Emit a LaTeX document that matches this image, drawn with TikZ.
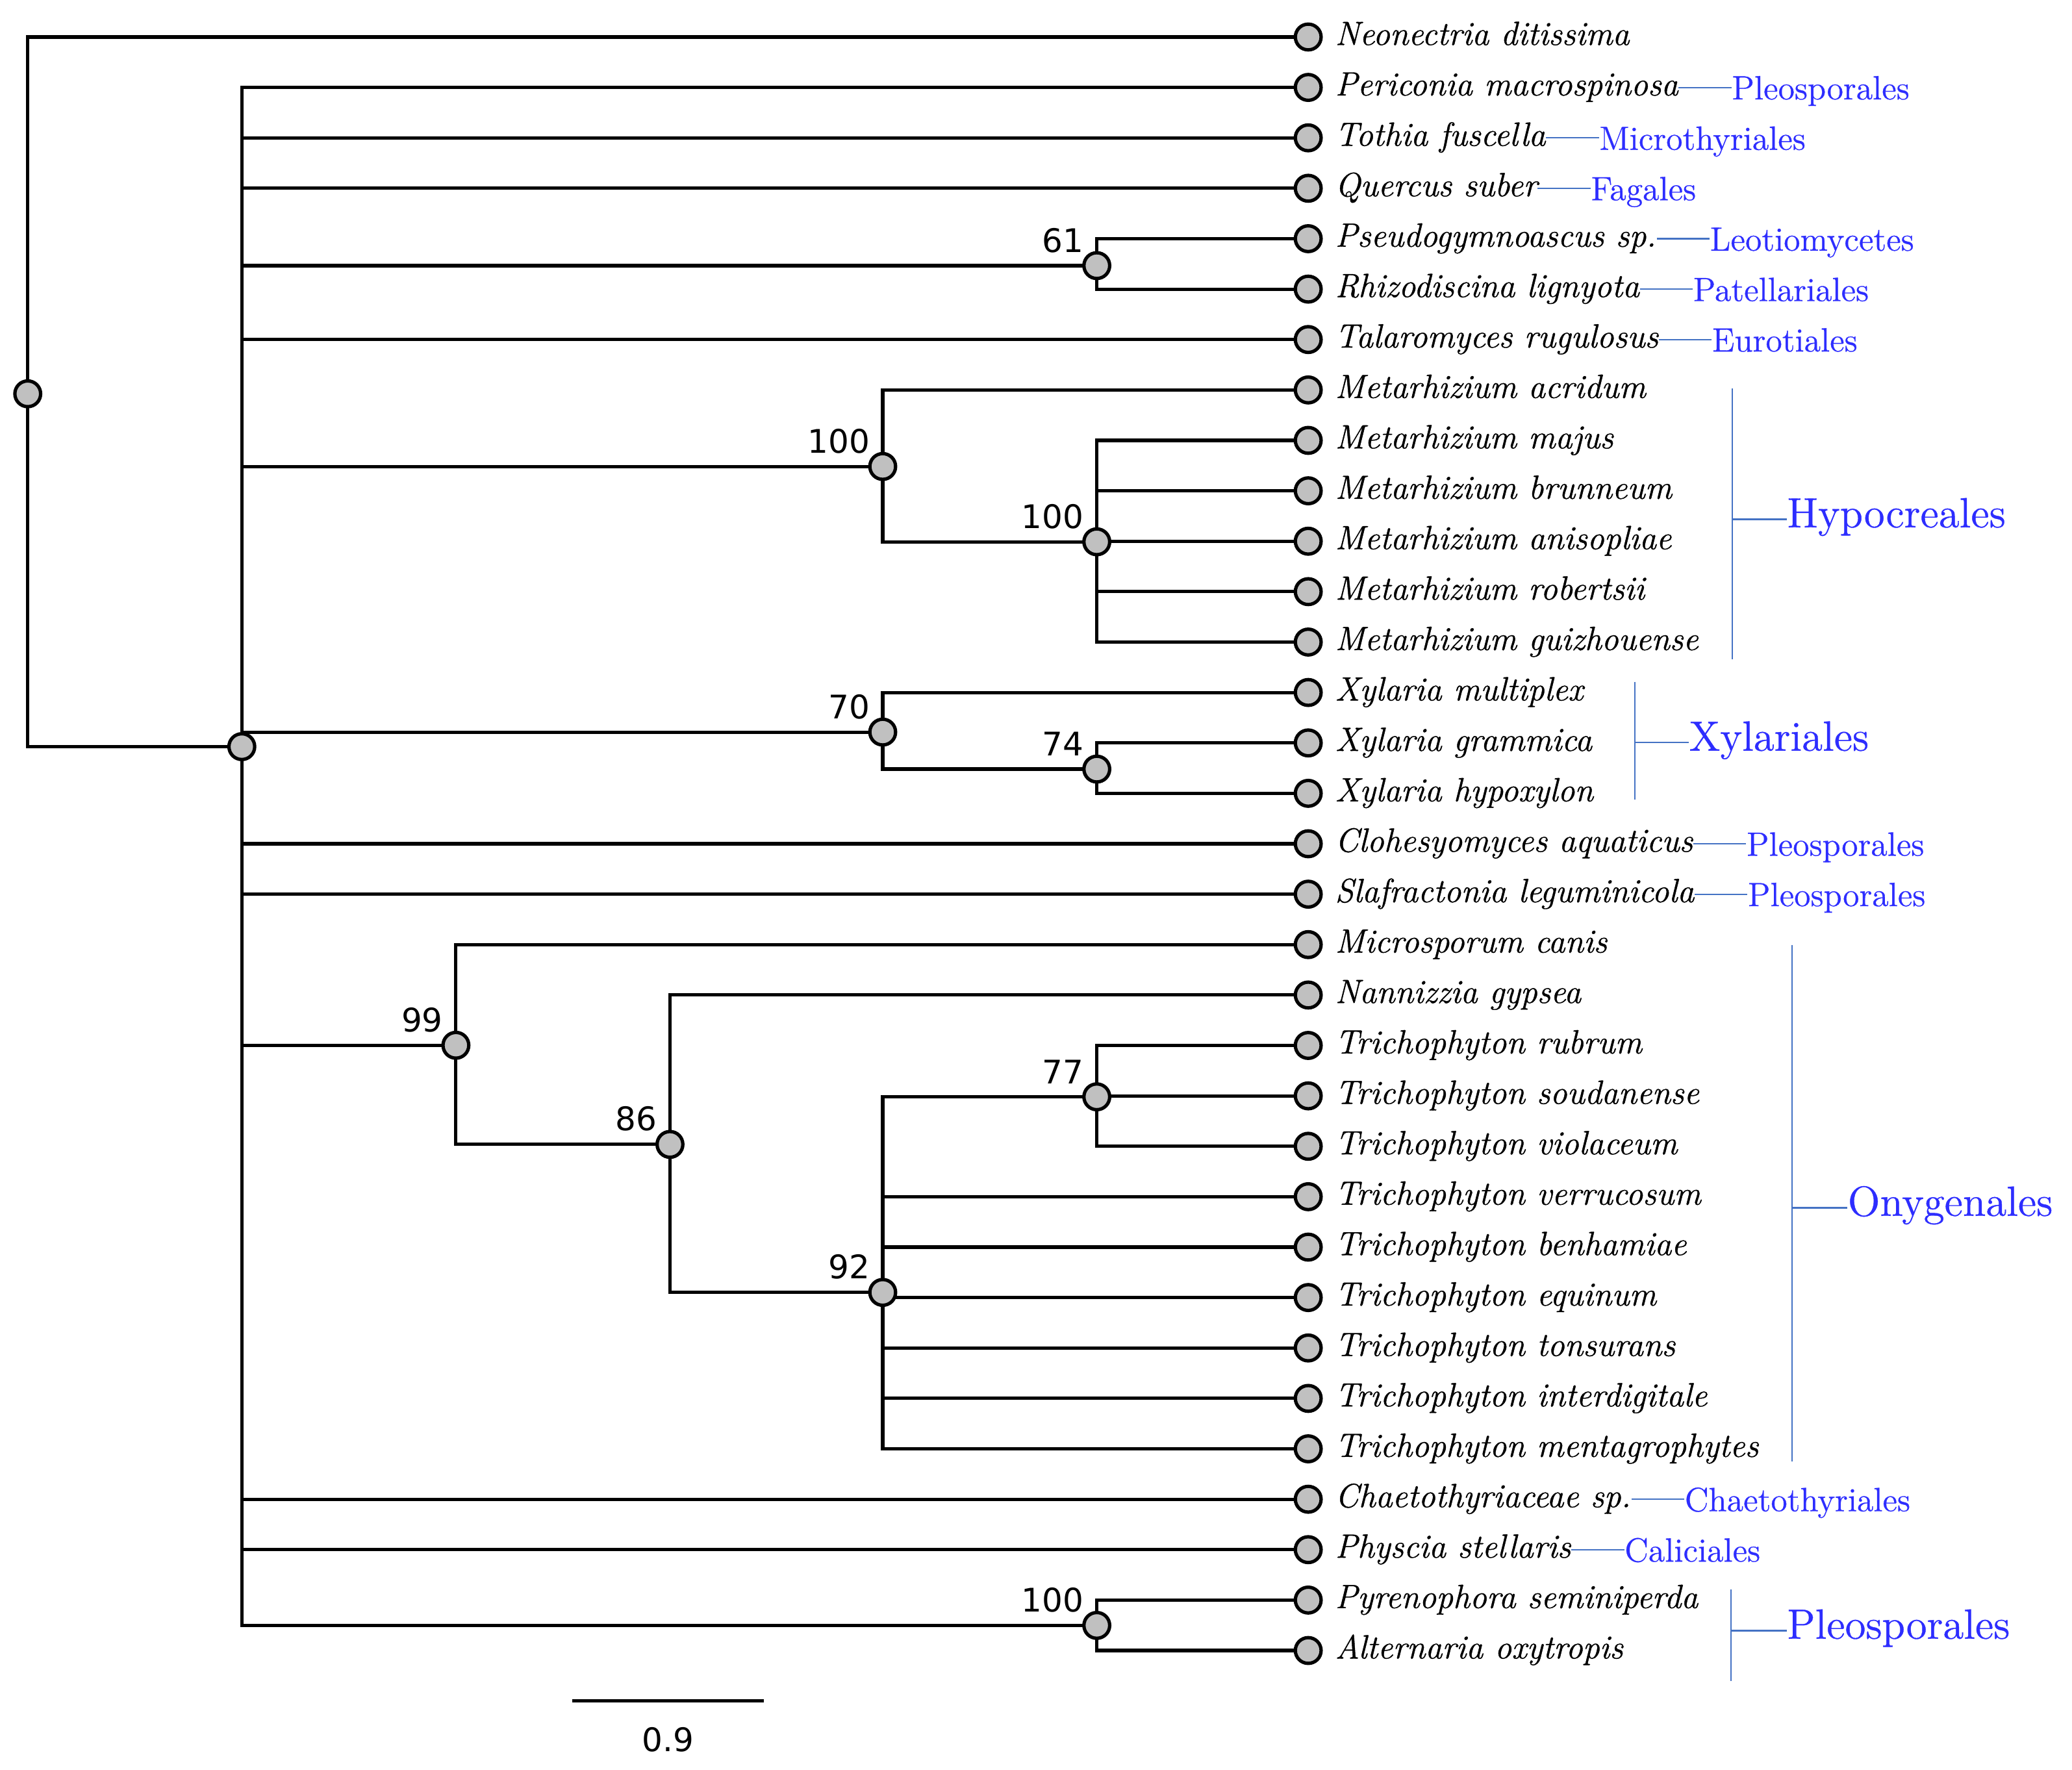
\documentclass[tikz,border=0pt]{standalone}
\usepackage{fontspec}
\newfontfamily\bsfont{DejaVu Sans}
\newfontfamily\leaffont{lmroman12-italic.otf}[FakeBold=0.8]
\newfontfamily\ordfont{lmroman12-regular.otf}[FakeBold=0.6]
\usepackage{tikz}
\usetikzlibrary{positioning,backgrounds}
\definecolor{ordertext}{RGB}{45,45,255}
\definecolor{orderline}{RGB}{68,114,196}
\definecolor{nodegray}{RGB}{192,192,192}
\tikzset{
    branch/.style={line width=1.45pt},
    dot/.style={circle, draw, line width=1.45pt, fill=nodegray, minimum size=0.39cm, inner sep=0pt},
    taxon/.style={anchor=west, inner sep=0pt, text height=1.6ex, text depth=0pt, font=\leaffont\fontsize{14.5}{16}\selectfont},
    bs/.style={inner sep=1pt, font=\bsfont\fontsize{14}{16}\selectfont},
    ord/.style={anchor=west, inner sep=0pt, text height=1.6ex, text depth=0pt, text=ordertext, font=\ordfont\fontsize{14.5}{16}\selectfont},
    bigord/.style={ord, font=\ordfont\fontsize{18.2}{21}\selectfont},
    ordline/.style={orderline, line width=0.6pt}
}

\begin{document}
\begin{tikzpicture}[x=0.02cm, y=-0.02cm]
    \useasboundingbox (0,0) rectangle (1568,1339);
    %Leaves
    \foreach \name [count=\i] in {Neonectria ditissima, Periconia macrospinosa, Tothia fuscella, Quercus suber, Pseudogymnoascus sp., Rhizodiscina lignyota, Talaromyces rugulosus, Metarhizium acridum, Metarhizium majus, Metarhizium brunneum, Metarhizium anisopliae, Metarhizium robertsii, Metarhizium guizhouense, Xylaria multiplex, Xylaria grammica, Xylaria hypoxylon, Clohesyomyces aquaticus, Slafractonia leguminicola, Microsporum canis, Nannizzia gypsea, Trichophyton rubrum, Trichophyton soudanense, Trichophyton violaceum, Trichophyton verrucosum, Trichophyton benhamiae, Trichophyton equinum, Trichophyton tonsurans, Trichophyton interdigitale, Trichophyton mentagrophytes, Chaetothyriaceae sp., Physcia stellaris, Pyrenophora seminiperda, Alternaria oxytropis} {
        \node[dot] (l\i) at (990,{28+38.156*(\i-1)}) {};
        \node[taxon] (t\i) at ([xshift=0.18cm]l\i.east) {\name};
    }
    %Inner nodes
    \node[dot] (root) at (21,298) {};
    \node[dot] (main) at (183,565) {};
    \node[dot, label={[bs]north west:61}] (n61) at (830,201) {};
    \node[dot, label={[bs]north west:100}] (nhyp) at (668,353) {};
    \node[dot, label={[bs]north west:100}] (nmet) at (830,410) {};
    \node[dot, label={[bs]north west:70}] (nxyl) at (668,554) {};
    \node[dot, label={[bs]north west:74}] (nxg) at (830,582) {};
    \node[dot, label={[bs]north west:99}] (nony) at (345,791) {};
    \node[dot, label={[bs]north west:86}] (nder) at (507,866) {};
    \node[dot, label={[bs]north west:92}] (ntri) at (668,978) {};
    \node[dot, label={[bs]north west:77}] (nrub) at (830,830) {};
    \node[dot, label={[bs]north west:100}] (nple) at (830,1230) {};
    %Branches
    \begin{scope}[on background layer]
        \draw[branch] (root.center) |- (l1.center);
        \draw[branch] (root.center) |- (main.center);
        \foreach \c in {l2,l3,l4,n61,l7,nhyp,nxyl,l17,l18,nony,l30,l31,nple}
            \draw[branch] (main.center) |- (\c.center);
        \foreach \c in {l5,l6} \draw[branch] (n61.center) |- (\c.center);
        \foreach \c in {l8,nmet} \draw[branch] (nhyp.center) |- (\c.center);
        \foreach \c in {l9,l10,l11,l12,l13} \draw[branch] (nmet.center) |- (\c.center);
        \foreach \c in {l14,nxg} \draw[branch] (nxyl.center) |- (\c.center);
        \foreach \c in {l15,l16} \draw[branch] (nxg.center) |- (\c.center);
        \foreach \c in {l19,nder} \draw[branch] (nony.center) |- (\c.center);
        \foreach \c in {l20,ntri} \draw[branch] (nder.center) |- (\c.center);
        \foreach \c in {nrub,l24,l25,l26,l27,l28,l29} \draw[branch] (ntri.center) |- (\c.center);
        \foreach \c in {l21,l22,l23} \draw[branch] (nrub.center) |- (\c.center);
        \foreach \c in {l32,l33} \draw[branch] (nple.center) |- (\c.center);
    \end{scope}
    %Orders of single taxa
    \foreach \i/\ord in {2/Pleosporales, 3/Microthyriales, 4/Fagales, 5/Leotiomycetes, 6/Patellariales, 7/Eurotiales, 17/Pleosporales, 18/Pleosporales, 30/Chaetothyriales, 31/Caliciales} {
        \node[ord] (o\i) at ([xshift=0.8cm, yshift=-0.06cm]t\i.east) {\ord};
        \draw[ordline] (t\i.east) -- (o\i.west |- t\i.east);
    }
    %Hypocreales
    \coordinate (hyptop) at (1311,294);
    \coordinate (hypbot) at (1311,499);
    \node[bigord] (hyp) at (1352,393) {Hypocreales};
    \draw[ordline] (hyptop) -- (hypbot);
    \draw[ordline] (hyptop |- hyp.west) -- (hyp.west);
    %Xylariales
    \coordinate (xyltop) at (1237,516);
    \coordinate (xylbot) at (1237,605);
    \node[bigord] (xyl) at (1278,562) {Xylariales};
    \draw[ordline] (xyltop) -- (xylbot);
    \draw[ordline] (xyltop |- xyl.west) -- (xyl.west);
    %Onygenales
    \coordinate (onytop) at (1356,715);
    \coordinate (onybot) at (1356,1106);
    \node[bigord] (ony) at (1398,914) {Onygenales};
    \draw[ordline] (onytop) -- (onybot);
    \draw[ordline] (onytop |- ony.west) -- (ony.west);
    %Pleosporales
    \coordinate (pletop) at (1310,1203);
    \coordinate (plebot) at (1310,1272);
    \node[bigord] (ple) at (1352,1234) {Pleosporales};
    \draw[ordline] (pletop) -- (plebot);
    \draw[ordline] (pletop |- ple.west) -- (ple.west);
    %Scale bar
    \coordinate (sbl) at (433,1287);
    \coordinate (sbr) at (578,1287);
    \draw[branch] (sbl) -- node[bs, below=0.34cm] {0.9} (sbr);
\end{tikzpicture}
\end{document}
